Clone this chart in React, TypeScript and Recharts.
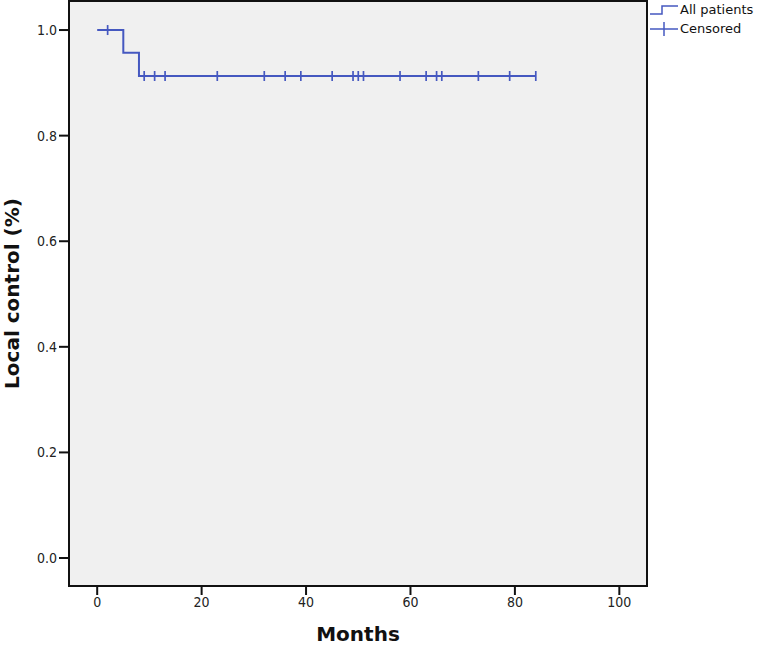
import React from "react";
import {
  ComposedChart,
  Line,
  Scatter,
  XAxis,
  YAxis,
  ReferenceArea,
  Legend,
} from "recharts";

// Kaplan-Meier step points (month of change, survival after it)
const stepMonths = [0, 5, 8, 84];
const stepSurvival = [1.0, 0.957, 0.913, 0.913];

// censored observations (months)
const censorMonths = [2, 9, 11, 13, 23, 32, 36, 39, 45, 49, 50, 51, 58, 63, 65, 66, 73, 79, 84];

const xTicks = [0, 20, 40, 60, 80, 100];
const yTicks = [0, 0.2, 0.4, 0.6, 0.8, 1.0];

const X_MIN = -5.4;
const X_MAX = 105.3;
const Y_MIN = -0.053;
const Y_MAX = 1.055;

const BLUE = "#4558c0";
const FONT = "'DejaVu Sans', Verdana, sans-serif";
const TICK_FONT = "'DejaVu Sans Condensed', 'DejaVu Sans', sans-serif";

const stepData = stepMonths.map((m, i) => ({ month: m, survival: stepSurvival[i] }));

const survivalAt = (m: number) => {
  let s = stepSurvival[0];
  stepMonths.forEach((t, i) => {
    if (t <= m) s = stepSurvival[i];
  });
  return s;
};

const censorData = censorMonths.map((m) => ({ month: m, survival: survivalAt(m) }));

const CensorMark = (props: any) => {
  const { cx, cy } = props;
  if (cx == null || cy == null) return null;
  return <line x1={cx} y1={cy - 5} x2={cx} y2={cy + 5} stroke={BLUE} strokeWidth={1.7} />;
};

function LegendBox() {
  return (
    <div style={{ fontFamily: FONT, fontSize: 13, color: "#111", lineHeight: "19px" }}>
      <div style={{ display: "flex", alignItems: "center" }}>
        <svg width={32} height={14}>
          <polyline points="2,11 14,11 14,3 30,3" fill="none" stroke={BLUE} strokeWidth={1.5} />
        </svg>
        <span>All patients</span>
      </div>
      <div style={{ display: "flex", alignItems: "center" }}>
        <svg width={32} height={14}>
          <line x1={2} y1={7} x2={30} y2={7} stroke={BLUE} strokeWidth={1.5} />
          <line x1={16} y1={0} x2={16} y2={14} stroke={BLUE} strokeWidth={1.5} />
        </svg>
        <span>Censored</span>
      </div>
    </div>
  );
}

export default function App() {
  return (
    <div style={{ position: "absolute", left: 0, top: 0, background: "#fff" }}>
      <ComposedChart
        width={762}
        height={646}
        margin={{ top: 1, right: 115, left: 0, bottom: 0 }}
      >
        <ReferenceArea
          x1={X_MIN}
          x2={X_MAX}
          y1={Y_MIN}
          y2={Y_MAX}
          fill="#f0f0f0"
          fillOpacity={1}
          stroke="#111"
          strokeWidth={2}
        />
        <XAxis
          type="number"
          dataKey="month"
          domain={[X_MIN, X_MAX]}
          ticks={xTicks}
          allowDataOverflow
          height={60}
          axisLine={false}
          tickLine={{ stroke: "#111", strokeWidth: 2 }}
          tickSize={9}
          tick={{ fill: "#222", fontSize: 14, fontFamily: TICK_FONT }}
          label={{
            value: "Months",
            position: "insideBottom",
            offset: 5,
            style: { fontFamily: FONT, fontWeight: 700, fontSize: 20, fill: "#111" },
          }}
        />
        <YAxis
          type="number"
          domain={[Y_MIN, Y_MAX]}
          ticks={yTicks}
          allowDataOverflow
          width={69}
          axisLine={false}
          tickLine={{ stroke: "#111", strokeWidth: 2 }}
          tickSize={10}
          tickFormatter={(v: number) => v.toFixed(1)}
          tick={{ fill: "#222", fontSize: 14, fontFamily: TICK_FONT }}
          label={{
            value: "Local control (%)",
            angle: -90,
            position: "insideLeft",
            offset: 12,
            style: {
              textAnchor: "middle",
              fontFamily: FONT,
              fontWeight: 700,
              fontSize: 20,
              fill: "#111",
            },
          }}
        />
        <Legend
          layout="horizontal"
          align="center"
          verticalAlign="middle"
          content={<LegendBox />}
          wrapperStyle={{ left: 648, top: 0, width: 114 }}
        />
        <Line
          data={stepData}
          dataKey="survival"
          type="stepAfter"
          stroke={BLUE}
          strokeWidth={2}
          dot={false}
          isAnimationActive={false}
        />
        <Scatter
          data={censorData}
          dataKey="survival"
          shape={<CensorMark />}
          isAnimationActive={false}
        />
      </ComposedChart>
    </div>
  );
}
